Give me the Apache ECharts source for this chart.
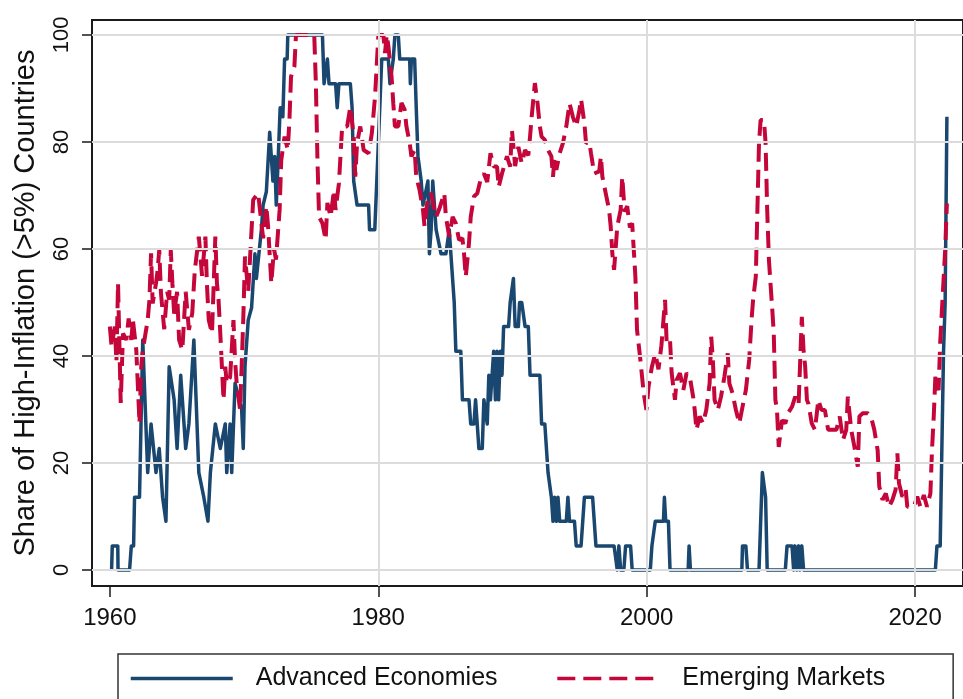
<!DOCTYPE html>
<html><head><meta charset="utf-8">
<script src="https://cdn.jsdelivr.net/npm/echarts@6/dist/echarts.min.js"></script>
<style>html,body{margin:0;padding:0;background:#fff}#c{width:963px;height:699px}</style>
</head><body><div id="c"></div><script>
// ---- data ----
const seriesNames = ['Advanced Economies', 'Emerging Markets'];
const xTicks = [1960, 1980, 2000, 2020];
const xGridLines = [1980, 2000, 2020];
const yTicks = [0, 20, 40, 60, 80, 100];

const aeYears = [
1960.13,1960.18,1960.59,1960.61,1961.47,1961.60,1961.77,1961.84,1962.21,1962.45,
1962.82,1963.07,1963.44,1963.68,1963.93,1964.18,1964.42,1964.79,1965.01,1965.28,
1965.65,1965.89,1966.26,1966.63,1967.00,1967.31,1967.49,1967.86,1968.23,1968.60,
1968.71,1968.96,1969.08,1969.33,1969.82,1969.94,1970.07,1970.31,1970.56,1970.81,
1970.92,1971.29,1971.42,1971.66,1971.91,1972.03,1972.15,1972.28,1972.40,1972.52,
1972.69,1972.89,1973.02,1973.21,1973.26,1975.84,1975.96,1976.21,1976.33,1976.82,
1976.94,1977.07,1977.92,1978.05,1978.17,1978.42,1979.28,1979.35,1979.74,1980.01,
1980.26,1980.75,1980.87,1981.12,1981.24,1981.49,1981.60,1982.34,1982.39,1982.47,
1982.71,1982.83,1982.96,1983.20,1983.33,1983.45,1983.70,1983.81,1983.94,1984.06,
1984.18,1984.31,1984.68,1985.04,1985.29,1985.41,1985.66,1985.78,1986.15,1986.27,
1986.76,1986.89,1987.13,1987.25,1987.50,1987.75,1987.87,1987.99,1988.12,1988.24,
1988.36,1988.60,1988.73,1988.85,1988.97,1989.10,1989.22,1989.34,1989.71,1989.83,
1990.07,1990.20,1990.44,1990.53,1990.69,1990.94,1991.18,1991.31,1992.04,1992.17,
1992.41,1992.65,1992.90,1993.02,1993.14,1993.27,1993.39,1993.52,1994.01,1994.13,
1994.25,1994.62,1994.75,1995.11,1995.36,1995.97,1996.22,1997.57,1997.81,1997.93,
1998.06,1998.30,1998.43,1998.80,1998.92,2000.27,2000.39,2000.64,2001.25,2001.32,
2001.42,2001.62,2001.74,2003.09,2003.16,2003.26,2007.09,2007.14,2007.39,2007.51,
2008.37,2008.62,2008.86,2008.98,2010.33,2010.46,2010.83,2010.95,2011.05,2011.19,
2011.32,2011.41,2011.56,2011.69,2021.51,2021.63,2021.87,2022.12,2022.24,2022.37];
const aeShare = [
0,4.5,4.5,0,0,4.5,4.5,13.6,13.6,43,
18.2,27.3,18.2,22.7,13.6,9.1,38,31.8,22.7,36.4,
22.7,27.3,43,18.2,13.6,9.1,18.2,27.3,22.7,27.3,
18.2,27.3,18.2,34.9,30,22.7,38,46.7,49,59.1,
54.5,63.6,68.2,70.7,81.8,77.3,72.7,77.3,68.2,75.4,
86.4,84.7,95.5,95.5,100,100,90.9,95.5,90.9,90.9,
86.4,90.9,90.9,86.4,72.7,68.2,68.2,63.6,63.6,80,
95.5,95.5,90.9,95.5,100,100,95.5,95.5,90.9,95.5,
95.5,86.4,77.3,72.7,68.2,68.2,72.7,59.1,63.6,72.7,
72.7,63.6,59.1,59.1,63.6,59.1,50,40.9,40.9,31.8,
31.8,27.3,27.3,31.8,22.7,22.7,31.8,31.8,27.3,36.4,
31.8,40.9,31.8,40.9,31.8,40.9,36.4,45.5,45.5,50,
54.5,45.5,45.5,50,50,45.5,45.5,36.4,36.4,27.3,
27.3,18.2,13.6,9.1,13.6,9.1,13.6,9.1,9.1,13.6,
9.1,9.1,4.5,4.5,13.6,13.6,4.5,4.5,0,4.5,
0,0,4.5,4.5,0,0,4.5,9.1,9.1,13.6,
9.1,9.1,0,0,4.5,0,0,4.5,4.5,0,
0,18.2,13.6,0,0,4.5,4.5,0,4.5,0,
4.5,0,4.5,0,0,4.5,4.5,40.9,50,84.7];

const emYears = [
1960.00,1960.13,1960.37,1960.49,1960.61,1960.81,1960.98,1961.23,1961.40,1961.60,
1961.72,1961.97,1962.21,1962.34,1962.45,1962.82,1962.95,1963.07,1963.19,1963.44,
1963.56,1963.68,1963.81,1964.05,1964.27,1964.42,1964.54,1964.66,1964.79,1965.01,
1965.16,1965.40,1965.65,1965.89,1966.14,1966.33,1966.63,1966.87,1967.12,1967.23,
1967.37,1967.61,1967.86,1967.98,1968.10,1968.23,1968.47,1968.60,1968.71,1968.96,
1969.21,1969.33,1969.45,1969.70,1969.82,1969.94,1970.07,1970.31,1970.68,1971.05,
1971.42,1971.66,1971.79,1972.03,1972.23,1972.38,1972.65,1972.77,1973.02,1973.26,
1973.39,1973.50,1973.75,1973.87,1975.23,1975.35,1975.47,1975.59,1975.84,1976.08,
1976.21,1976.45,1976.70,1976.82,1977.07,1977.31,1977.68,1977.92,1978.17,1978.29,
1978.42,1978.66,1978.91,1979.28,1979.52,1979.76,1980.01,1980.38,1980.50,1980.63,
1980.75,1980.99,1981.12,1981.24,1981.49,1981.73,1981.97,1982.10,1982.34,1982.47,
1982.71,1982.83,1983.08,1983.33,1983.45,1983.70,1983.94,1984.18,1984.31,1984.55,
1984.92,1985.04,1985.29,1985.54,1985.78,1986.02,1986.27,1986.39,1986.52,1986.76,
1986.89,1987.13,1987.38,1987.62,1987.87,1988.12,1988.36,1988.60,1988.85,1988.97,
1989.22,1989.59,1989.83,1989.96,1990.20,1990.44,1990.69,1990.94,1991.18,1991.31,
1991.43,1991.67,1991.87,1992.04,1992.17,1992.41,1992.65,1992.90,1993.02,1993.14,
1993.27,1993.52,1993.76,1994.01,1994.25,1994.50,1994.75,1994.99,1995.11,1995.36,
1995.48,1995.73,1995.85,1996.09,1996.46,1996.59,1996.70,1996.95,1997.20,1997.32,
1997.44,1997.57,1997.81,1998.06,1998.18,1998.36,1998.55,1998.75,1998.92,1999.04,
1999.16,1999.28,1999.53,1999.78,1999.98,2000.14,2000.39,2000.64,2000.88,2001.10,
2001.37,2001.49,2001.74,2001.86,2002.11,2002.23,2002.48,2002.73,2002.97,2003.22,
2003.46,2003.58,2003.71,2003.95,2004.20,2004.44,2004.69,2004.81,2004.93,2005.06,
2005.30,2005.54,2005.79,2006.04,2006.16,2006.40,2006.65,2006.90,2007.14,2007.39,
2007.64,2007.83,2007.93,2008.13,2008.25,2008.37,2008.49,2008.74,2008.86,2008.98,
2009.11,2009.35,2009.47,2009.59,2009.71,2009.84,2009.96,2010.08,2010.33,2010.58,
2010.83,2011.07,2011.32,2011.56,2011.69,2011.81,2011.94,2012.06,2012.30,2012.54,
2012.79,2013.03,2013.28,2013.52,2013.77,2014.14,2014.38,2014.63,2014.87,2014.99,
2015.24,2015.48,2015.73,2015.85,2016.10,2016.47,2016.71,2016.96,2017.21,2017.33,
2017.57,2017.82,2018.06,2018.31,2018.55,2018.68,2018.80,2019.05,2019.30,2019.42,
2019.91,2020.16,2020.40,2020.65,2020.89,2021.14,2021.26,2021.39,2021.51,2021.75,
2021.87,2022.00,2022.24,2022.37];
const emShare = [
45.5,41.7,45.5,38.9,53.6,31.2,44.2,43,47,43,
46.7,41.1,27.4,38.1,41,46.7,50.5,59.2,49.8,53.6,
56,59.8,51.7,45,52,50.5,59.8,53.6,47.9,52,
43,41.1,52,44.9,48,56,62.3,55,62.3,53.6,
46.7,44.2,62.3,53.6,50.5,44.2,31.8,38,34.9,36,
46.7,39.2,34.9,30,38,46.7,58.6,52,69.2,70.4,
62,68,64.2,53.6,60,58,67.3,76.6,81,78.5,
84.7,92.2,94.1,100,100,91,76.6,66,64.8,61.7,
68.6,66,71,67.3,72.3,82.9,82.9,86.6,81,73.5,
79.8,82.9,78.5,77.9,81.6,88.5,100,100,96.6,100,
98,92.2,87.2,82.9,82.9,87.3,86,82.9,79.8,77.3,
78.5,73.5,71,67.3,64.2,69.8,70.4,67.3,66,67.5,
70.4,66,62.3,66,64.8,61.7,62,59.2,54.8,61.1,
66,69.8,70.4,72.9,74.1,72.5,77.9,75.4,75.4,71.6,
74.1,77.3,75.4,82.2,75.5,79.1,76,78.5,77.5,81,
84.7,91,87.2,82.9,81,80.4,78.5,77.3,73.5,77.3,
74.8,77.9,79.8,82.9,87.2,84.7,82.9,86,88,83.5,
79.8,80,77.9,74.1,74.5,77.3,73.5,70.4,67.3,64.2,
59.2,56.1,64.2,67.3,73.5,67,68,64,64.8,59.8,
54.8,44.9,39.3,33,29.9,34.3,38,40.5,37.5,42,
50.5,42.4,43,36.8,31.8,35.5,36.8,33.6,36.8,36,
32.4,29.9,26.2,28.7,27.4,29.9,34.9,43.6,39.3,31.8,
29.9,32.4,36.1,40.5,34.9,33,29.9,27.4,30.5,33.6,
39.3,47.3,50.5,54.8,67.3,79.8,84.1,84.1,79.8,67.3,
57.9,49,44.2,31.8,29.9,23,25.5,28,27.4,29.5,
30.5,32.4,31,47.3,41.1,38,31.8,31,27.4,26.2,
31.8,29.9,29.9,26.2,26.2,26.2,28.7,24.3,26.2,32.4,
26.2,23,19.3,28.7,29.3,29.3,28.7,26.2,22.4,15.6,
13.1,14.3,11.8,13.1,15,21.8,16.2,13.7,15,11.8,
11.8,13.7,11.8,14,11.8,14.3,22.4,28.7,36.1,33.6,
42.4,48.6,59.8,68.5];

// ---- chart ----
const FONT = '"Liberation Sans", Arial, Helvetica, sans-serif';
const INK = '#111111';
const pairs = (xs, ys) => xs.map((x, i) => [x, ys[i]]);

const chart = echarts.init(document.getElementById('c'), null, {renderer: 'canvas'});
chart.setOption({
  animation: false,
  backgroundColor: '#ffffff',
  grid: {left: 92, top: 20, bottom: 113, right: -10, show: true,
         borderColor: '#1a1a1a', borderWidth: 2, backgroundColor: 'transparent'},
  xAxis: {
    type: 'value', min: 1958.67, max: 2023.57,
    axisLine: {show: true, onZero: false, lineStyle: {color: '#1a1a1a', width: 2}},
    axisTick: {show: true, customValues: xTicks, length: 11, lineStyle: {color: '#1a1a1a', width: 1.5}},
    axisLabel: {show: true, customValues: xTicks, fontSize: 24, color: INK, fontFamily: FONT, margin: 20,
                formatter: v => String(v)},
    splitLine: {show: false}
  },
  yAxis: {
    type: 'value', min: -3, max: 102.8,
    name: 'Share of High-Inflation (>5%) Countries',
    nameLocation: 'middle', nameGap: 52, nameRotate: 90,
    nameTextStyle: {fontSize: 29, color: INK, fontFamily: FONT},
    axisLine: {show: true, onZero: false, lineStyle: {color: '#1a1a1a', width: 2}},
    axisTick: {show: true, customValues: yTicks, length: 10, lineStyle: {color: '#1a1a1a', width: 1.5}},
    axisLabel: {show: true, customValues: yTicks, rotate: 90, fontSize: 22, color: INK, fontFamily: FONT, margin: 19,
                formatter: v => String(v)},
    splitLine: {show: false}
  },
  legend: {
    data: seriesNames, left: 118, top: 654, orient: 'horizontal',
    itemWidth: 102, itemHeight: 25, itemGap: 58,
    itemStyle: {opacity: 0},
    lineStyle: {width: 3.5},
    borderColor: '#333333', borderWidth: 1.5, padding: [12, 68, 24, 11],
    textStyle: {fontSize: 25, color: INK, fontFamily: FONT, padding: [0, 0, 0, 18]}
  },
  series: [
    {type: 'line', data: [], silent: true, z: 1,
     markLine: {silent: true, symbol: ['none', 'none'], label: {show: false},
       lineStyle: {color: '#dcdcdc', width: 2, type: 'solid'},
       emphasis: {disabled: true},
       data: yTicks.map(v => ({yAxis: v})).concat(xGridLines.map(v => ({xAxis: v})))}},
    {name: seriesNames[0], type: 'line', z: 3, data: pairs(aeYears, aeShare),
     symbol: 'none', showSymbol: false,
     lineStyle: {color: '#1a476f', width: 3.5, join: 'round'}, itemStyle: {color: '#1a476f'}},
    {name: seriesNames[1], type: 'line', z: 4, data: pairs(emYears, emShare),
     symbol: 'none', showSymbol: false,
     lineStyle: {color: '#c4063a', width: 4, type: [18, 8]}, itemStyle: {color: '#c4063a'}}
  ]
});
</script></body></html>
